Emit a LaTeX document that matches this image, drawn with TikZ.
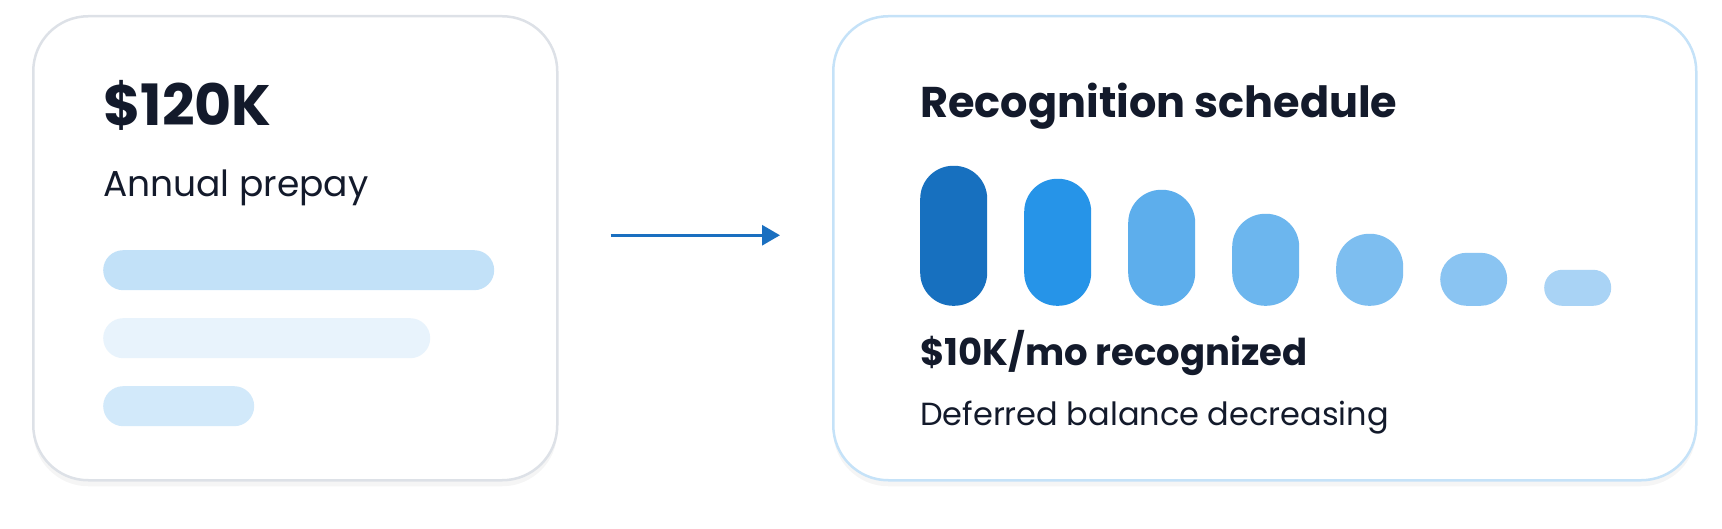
\documentclass[tikz,border=0pt]{standalone}
\usepackage{fontspec}
\setmainfont{Poppins}
\usetikzlibrary{arrows.meta, positioning, shadows}
\definecolor{ink}{HTML}{131A2B}
\definecolor{cardgray}{HTML}{DDE1E7}
\definecolor{cardblue}{HTML}{C5E2F8}
\definecolor{arrowblue}{HTML}{1A6FC0}
\begin{document}
\begin{tikzpicture}[x=1pt, y=-1pt,
    card/.style={rectangle, draw, line width=2.5pt, rounded corners=55pt, fill=white, inner sep=0pt,
                 drop shadow={shadow xshift=0pt, shadow yshift=-6pt, opacity=0.04, fill=black}},
    bar/.style={rectangle, rounded corners=20pt, minimum height=40pt, inner sep=0pt, anchor=north west},
    pill/.style={rectangle, rounded corners=33pt, minimum width=67pt, inner sep=0pt, anchor=south west},
    txt/.style={anchor=base west, inner sep=0pt, text=ink}
 ]
\useasboundingbox (0,0) rectangle (1722,529);

\node[card, draw=cardgray, minimum width=524pt, minimum height=464pt, anchor=north west] (Prepay) at (32,15) {};
\node[card, draw=cardblue, minimum width=863pt, minimum height=464pt, anchor=north west] (Schedule) at (832,15) {};

\node[txt, font=\fontsize{57}{60}\selectfont\bfseries] (Amount) at (103,126) {\$120K};
\node[txt, font=\fontsize{36}{40}\selectfont] (AmountSub) at (103,197) {Annual prepay};

\node[bar, fill={rgb,255:red,194;green,225;blue,248}, minimum width=391pt] (BarA) at (103,250) {};
\node[bar, fill={rgb,255:red,232;green,243;blue,252}, minimum width=327pt] (BarB) at (103,318) {};
\node[bar, fill={rgb,255:red,210;green,233;blue,250}, minimum width=151pt] (BarC) at (103,386) {};

\draw[-{Triangle[length=18pt, width=20pt]}, line width=3pt, draw=arrowblue, shorten <=52pt, shorten >=52pt]
  ([yshift=13pt]Prepay.east) -- ([yshift=13pt]Schedule.west);

\node[txt, font=\fontsize{43}{46}\selectfont\bfseries] (Title) at (920,118) {Recognition schedule};

\foreach \i/\h/\c in {0/140/1770BF, 1/127/2694E8, 2/116/5DAEEC, 3/92/6CB6EE, 4/72/7DBEF0, 5/53/8AC4F2, 6/36/A9D3F5} {
  \definecolor{pc}{HTML}{\c}
  \node[pill, fill=pc, minimum height=\h pt, rounded corners={min(33,\h/2)*1pt}] (Pill\i) at (920+104*\i,306) {};
}

\node[txt, font=\fontsize{37}{40}\selectfont\bfseries] (Rate) at (920,366) {\$10K/mo recognized};
\node[txt, font=\fontsize{32}{35}\selectfont] (Balance) at (920,425) {Deferred balance decreasing};

\end{tikzpicture}
\end{document}
